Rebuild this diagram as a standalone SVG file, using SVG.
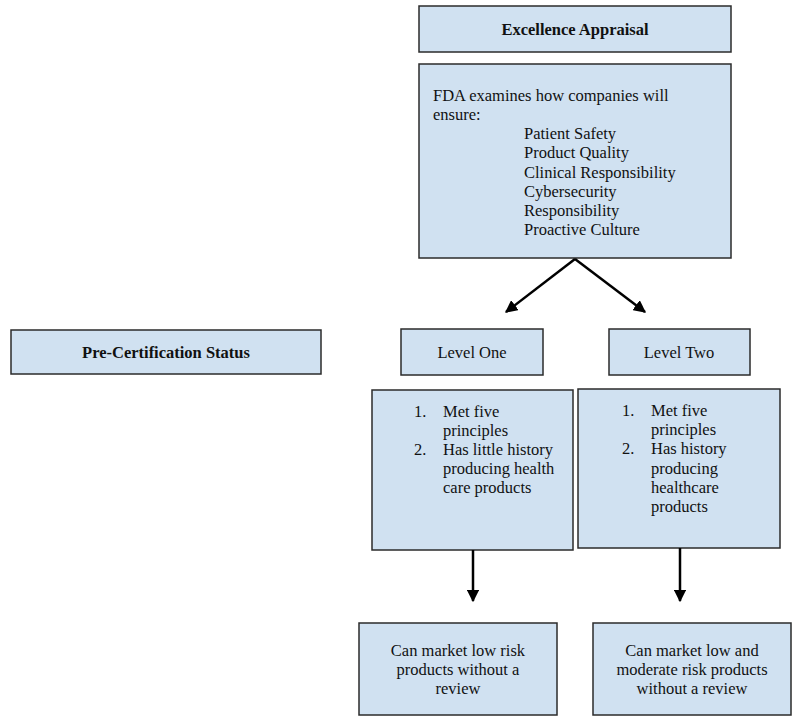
<svg xmlns="http://www.w3.org/2000/svg" width="797" height="722" viewBox="0 0 797 722">
<defs>
<style>
.box{fill:#d0e1f1;stroke:#2b2b2b;stroke-width:1.5}
.t{font-family:"Liberation Serif","Times New Roman",serif;font-size:16.5px;fill:#111}
.b{font-weight:bold}
.c{text-anchor:middle}
.ln{stroke:#000;stroke-width:2.5;fill:none}
</style>
<marker id="ah" viewBox="0 0 10 10" refX="9" refY="5" markerWidth="5" markerHeight="5" orient="auto" markerUnits="strokeWidth">
<path d="M0,0 L10,5 L0,10 z" fill="#000"/>
</marker>
</defs>
<rect width="797" height="722" fill="#fff"/>
<g id="excellence">
<rect class="box" x="419" y="6" width="312" height="46"/>
<text class="t b c" x="575" y="35">Excellence Appraisal</text>
</g>
<g id="fda">
<rect class="box" x="419" y="64" width="312" height="194"/>
<text class="t" x="433" y="101">FDA examines how companies will</text>
<text class="t" x="433" y="120">ensure:</text>
<text class="t" x="524" y="139">Patient Safety</text>
<text class="t" x="524" y="158">Product Quality</text>
<text class="t" x="524" y="178">Clinical Responsibility</text>
<text class="t" x="524" y="197">Cybersecurity</text>
<text class="t" x="524" y="216">Responsibility</text>
<text class="t" x="524" y="235">Proactive Culture</text>
</g>
<g id="precert">
<rect class="box" x="11" y="330" width="310" height="44"/>
<text class="t b c" x="166" y="358">Pre-Certification Status</text>
</g>
<g id="level1">
<rect class="box" x="401" y="329" width="142" height="46"/>
<text class="t c" x="472" y="358">Level One</text>
</g>
<g id="level2">
<rect class="box" x="609" y="329" width="141" height="46"/>
<text class="t c" x="679" y="358">Level Two</text>
</g>
<g id="level1-detail">
<rect class="box" x="372" y="390" width="201" height="160"/>
<text class="t" x="414" y="417">1.</text>
<text class="t" x="443" y="417">Met five</text>
<text class="t" x="443" y="436">principles</text>
<text class="t" x="414" y="455">2.</text>
<text class="t" x="443" y="455">Has little history</text>
<text class="t" x="443" y="474">producing health</text>
<text class="t" x="443" y="493">care products</text>
</g>
<g id="level2-detail">
<rect class="box" x="578" y="389" width="202" height="159"/>
<text class="t" x="622" y="416">1.</text>
<text class="t" x="651" y="416">Met five</text>
<text class="t" x="651" y="435">principles</text>
<text class="t" x="622" y="454">2.</text>
<text class="t" x="651" y="454">Has history</text>
<text class="t" x="651" y="474">producing</text>
<text class="t" x="651" y="493">healthcare</text>
<text class="t" x="651" y="512">products</text>
</g>
<g id="outcome1">
<rect class="box" x="359" y="623" width="198" height="92"/>
<text class="t c" x="458" y="656">Can market low risk</text>
<text class="t c" x="458" y="675">products without a</text>
<text class="t c" x="458" y="694">review</text>
</g>
<g id="outcome2">
<rect class="box" x="593" y="623" width="198" height="92"/>
<text class="t c" x="692" y="656">Can market low and</text>
<text class="t c" x="692" y="675">moderate risk products</text>
<text class="t c" x="692" y="694">without a review</text>
</g>
<g id="connectors">
<line class="ln" x1="575" y1="259" x2="506" y2="312" marker-end="url(#ah)"/>
<line class="ln" x1="575" y1="259" x2="645" y2="312" marker-end="url(#ah)"/>
<line class="ln" x1="473" y1="550" x2="473" y2="601" marker-end="url(#ah)"/>
<line class="ln" x1="680" y1="548" x2="680" y2="601" marker-end="url(#ah)"/>
</g>
</svg>
